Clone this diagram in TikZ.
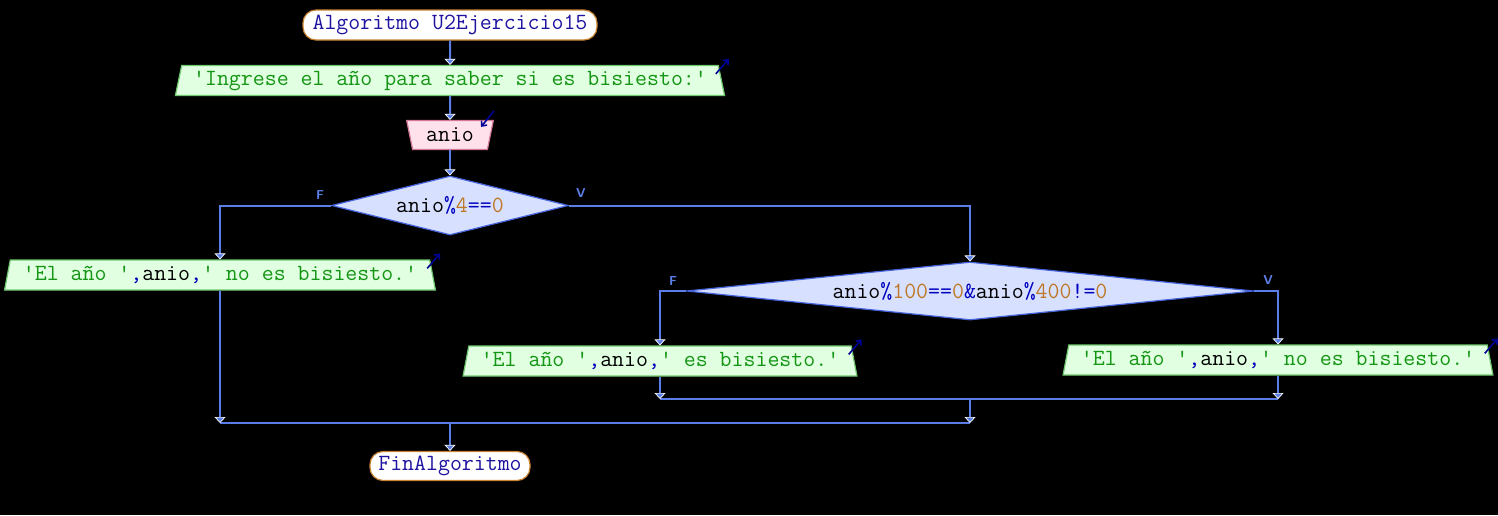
\documentclass[tikz,border=0pt]{standalone}
\usetikzlibrary{shapes.geometric,arrows.meta}
\definecolor{linecol}{RGB}{90,125,230}
\definecolor{termdraw}{RGB}{200,130,50}
\definecolor{termtext}{RGB}{30,20,160}
\definecolor{outfill}{RGB}{225,255,225}
\definecolor{outdraw}{RGB}{110,200,110}
\definecolor{infill}{RGB}{255,225,235}
\definecolor{indraw}{RGB}{210,120,150}
\definecolor{decfill}{RGB}{215,225,255}
\definecolor{decdraw}{RGB}{70,100,220}
\definecolor{strcol}{RGB}{20,150,20}
\definecolor{opcol}{RGB}{0,0,190}
\definecolor{numcol}{RGB}{190,120,40}
\definecolor{iconcol}{RGB}{0,0,150}
\newcommand{\myq}{\textquotesingle}
\newcommand{\mystr}[1]{\textcolor{strcol}{#1}}
\newcommand{\myop}[1]{\textcolor{opcol}{#1}}
\newcommand{\mynum}[1]{\textcolor{numcol}{#1}}
\tikzset{
  txt/.style={font=\ttfamily\fontsize{23.2}{24}\selectfont},
  term/.style={txt, rectangle, rounded corners=13pt, fill=white, draw=termdraw, line width=1.2pt, inner sep=0pt, text=termtext},
  outbox/.style={txt, trapezium, trapezium stretches=true, trapezium left angle=73, trapezium right angle=73, fill=outfill, draw=outdraw, line width=1.2pt, inner sep=0pt, minimum height=30pt},
  inbox/.style={txt, trapezium, trapezium stretches=true, trapezium left angle=105, trapezium right angle=105, fill=infill, draw=indraw, line width=1.2pt, inner sep=0pt, minimum height=29pt},
  decbox/.style={txt, diamond, fill=decfill, draw=decdraw, line width=1.2pt, inner sep=0pt},
  lbl/.style={font=\sffamily\bfseries\fontsize{13}{13}\selectfont, text=linecol, inner sep=0pt},
  wire/.style={draw=linecol, line width=2pt},
  flow/.style={wire, -{Triangle[width=11pt,length=6pt,fill=linecol,color=white,line width=0.7pt]}},
  icon/.style={draw=iconcol, line width=1.6pt, -{Straight Barb[length=4pt,width=7pt,line width=1.6pt]}},
}
\begin{document}
\begin{tikzpicture}[x=1pt,y=-1pt]
\fill[black] (0,0) rectangle (1498,515);
\useasboundingbox (0,0) rectangle (1498,515);

\node[term, minimum width=294pt, minimum height=30pt] (start) at (450,25) {Algoritmo U2Ejercicio15};
\node[outbox, minimum width=552pt] (out1) at (450,80.5) {\mystr{\myq Ingrese el año para saber si es bisiesto:\myq}};
\node[inbox, minimum width=87pt] (in1) at (450,135) {anio};
\node[decbox, aspect=4, minimum width=237pt, minimum height=59pt] (d1) at (450,205.5) {anio\myop{\%}\mynum{4}\myop{==}\mynum{0}};
\node[outbox, minimum width=433pt] (out2) at (220,275) {\mystr{\myq El año \myq}\myop{,}anio\myop{,}\mystr{\myq{} no es bisiesto.\myq}};
\node[decbox, aspect=9.8, minimum width=567pt, minimum height=58pt] (d2) at (970,291) {anio\myop{\%}\mynum{100}\myop{==}\mynum{0}\myop{\&}anio\myop{\%}\mynum{400}\myop{!=}\mynum{0}};
\node[outbox, minimum width=395pt] (out3) at (660,361) {\mystr{\myq El año \myq}\myop{,}anio\myop{,}\mystr{\myq{} es bisiesto.\myq}};
\node[outbox, minimum width=432pt] (out4) at (1278,360) {\mystr{\myq El año \myq}\myop{,}anio\myop{,}\mystr{\myq{} no es bisiesto.\myq}};
\node[term, minimum width=160pt, minimum height=29pt] (end) at (450,466) {FinAlgoritmo};

\node[lbl] (f1) at (320,195) {F};
\node[lbl] (v1) at (581,193) {V};
\node[lbl] (f2) at (673,281) {F};
\node[lbl] (v2) at (1268,280) {V};

\coordinate (m1) at (970,399);
\coordinate (m2) at (970,423);

\draw[flow] (start.south) -- (out1.north);
\draw[flow] (out1.south) -- (in1.north);
\draw[flow] (in1.south) -- (d1.north);
\draw[flow] (d1.west) -| (out2.north);
\draw[flow] (d1.east) -| (d2.north);
\draw[flow] (d2.west) -| (out3.north);
\draw[flow] (d2.east) -| (out4.north);
\draw[wire] (out3.south |- m1) -- (out4.south |- m1);
\draw[flow] (out3.south) -- (out3.south |- m1);
\draw[flow] (out4.south) -- (out4.south |- m1);
\draw[wire] (out2.south |- m2) -- (m2);
\draw[flow] (m1) -- (m2);
\draw[flow] (out2.south) -- (out2.south |- m2);
\draw[flow] (end.north |- m2) -- (end.north);

\draw[icon] ([xshift=-3pt,yshift=-9pt]out1.top right corner) -- ([xshift=10pt,yshift=6pt]out1.top right corner);
\draw[icon] ([xshift=-3pt,yshift=-9pt]out2.top right corner) -- ([xshift=10pt,yshift=6pt]out2.top right corner);
\draw[icon] ([xshift=-3pt,yshift=-9pt]out3.top right corner) -- ([xshift=10pt,yshift=6pt]out3.top right corner);
\draw[icon] ([xshift=-3pt,yshift=-9pt]out4.top right corner) -- ([xshift=10pt,yshift=6pt]out4.top right corner);
\draw[icon] ([xshift=0pt,yshift=9pt]in1.top right corner) -- ([xshift=-13pt,yshift=-7pt]in1.top right corner);
\end{tikzpicture}
\end{document}
